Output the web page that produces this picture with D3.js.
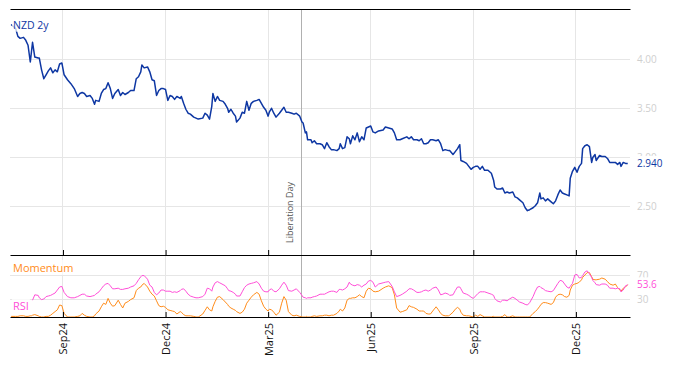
<!DOCTYPE html>
<html><head><meta charset="utf-8">
<script src="https://cdn.jsdelivr.net/npm/d3@7"></script>
<style>body{margin:0;background:#fff}svg{display:block;font-family:"Open Sans",sans-serif}</style>
</head><body><svg id="c" width="674" height="366"></svg>
<script>
const dates=["2024-07-18","2024-07-22","2024-07-24","2024-07-26","2024-07-29","2024-07-31","2024-08-02","2024-08-04","2024-08-05","2024-08-06",
"2024-08-08","2024-08-11","2024-08-12","2024-08-14","2024-08-16","2024-08-18","2024-08-20","2024-08-22","2024-08-24","2024-08-26",
"2024-08-28","2024-08-30","2024-09-01","2024-09-03","2024-09-06","2024-09-09","2024-09-12","2024-09-15","2024-09-17","2024-09-19",
"2024-09-21","2024-09-23","2024-09-26","2024-09-28","2024-09-30","2024-10-01","2024-10-04","2024-10-06","2024-10-08","2024-10-10",
"2024-10-12","2024-10-14","2024-10-16","2024-10-18","2024-10-21","2024-10-23","2024-10-25","2024-10-27","2024-10-30","2024-11-01",
"2024-11-04","2024-11-06","2024-11-08","2024-11-10","2024-11-11","2024-11-13","2024-11-16","2024-11-18","2024-11-20","2024-11-22",
"2024-11-24","2024-11-26","2024-11-28","2024-11-30","2024-12-02","2024-12-04","2024-12-06","2024-12-08","2024-12-10","2024-12-12",
"2024-12-15","2024-12-16","2024-12-18","2024-12-20","2024-12-22","2024-12-24","2024-12-27","2024-12-29","2024-12-31","2025-01-04",
"2025-01-06","2025-01-08","2025-01-10","2025-01-12","2025-01-13","2025-01-15","2025-01-17","2025-01-19","2025-01-22","2025-01-24",
"2025-01-26","2025-01-27","2025-01-29","2025-01-31","2025-02-02","2025-02-03","2025-02-06","2025-02-08","2025-02-10","2025-02-12",
"2025-02-14","2025-02-16","2025-02-18","2025-02-21","2025-02-23","2025-02-25","2025-02-27","2025-03-01","2025-03-03","2025-03-04",
"2025-03-06","2025-03-08","2025-03-10","2025-03-13","2025-03-15","2025-03-17","2025-03-19","2025-03-21","2025-03-24","2025-03-26",
"2025-03-28","2025-03-31","2025-04-02","2025-04-03","2025-04-05","2025-04-06","2025-04-07","2025-04-10","2025-04-11","2025-04-13",
"2025-04-15","2025-04-18","2025-04-20","2025-04-22","2025-04-24","2025-04-26","2025-04-28","2025-04-30","2025-05-03","2025-05-05",
"2025-05-06","2025-05-08","2025-05-10","2025-05-12","2025-05-14","2025-05-15","2025-05-17","2025-05-19","2025-05-21","2025-05-23",
"2025-05-25","2025-05-27","2025-05-29","2025-05-31","2025-06-02","2025-06-04","2025-06-06","2025-06-09","2025-06-13","2025-06-15",
"2025-06-18","2025-06-21","2025-06-23","2025-06-25","2025-06-28","2025-06-30","2025-07-04","2025-07-06","2025-07-08","2025-07-10",
"2025-07-13","2025-07-15","2025-07-17","2025-07-19","2025-07-21","2025-07-23","2025-07-25","2025-07-27","2025-07-30","2025-08-01",
"2025-08-03","2025-08-05","2025-08-07","2025-08-10","2025-08-11","2025-08-14","2025-08-16","2025-08-18","2025-08-20","2025-08-21",
"2025-08-23","2025-08-26","2025-08-28","2025-08-30","2025-09-01","2025-09-03","2025-09-05","2025-09-07","2025-09-09","2025-09-11",
"2025-09-14","2025-09-17","2025-09-19","2025-09-20","2025-09-22","2025-09-25","2025-09-27","2025-09-29","2025-10-01","2025-10-03",
"2025-10-06","2025-10-08","2025-10-10","2025-10-12","2025-10-15","2025-10-17","2025-10-19","2025-10-21","2025-10-24","2025-10-26",
"2025-10-28","2025-10-30","2025-10-31","2025-11-02","2025-11-04","2025-11-06","2025-11-09","2025-11-11","2025-11-13","2025-11-15",
"2025-11-17","2025-11-19","2025-11-21","2025-11-23","2025-11-25","2025-11-26","2025-11-28","2025-11-30","2025-12-02","2025-12-03",
"2025-12-04","2025-12-06","2025-12-07","2025-12-09","2025-12-11","2025-12-13","2025-12-15","2025-12-16","2025-12-18","2025-12-19",
"2025-12-22","2025-12-24","2025-12-27","2025-12-29","2025-12-31","2026-01-03","2026-01-05","2026-01-07","2026-01-09","2026-01-10",
"2026-01-12","2026-01-14","2026-01-16"];

const price=[4.35,4.31,4.23,4.21,4.22,4.19,4.14,3.97,4.07,4.17,
4.02,4.01,4.01,3.89,3.80,3.84,3.88,3.91,3.86,3.89,
3.87,3.95,3.96,3.84,3.79,3.75,3.70,3.62,3.65,3.66,
3.65,3.62,3.63,3.60,3.54,3.58,3.57,3.65,3.69,3.70,
3.76,3.70,3.60,3.65,3.69,3.63,3.66,3.64,3.66,3.68,
3.68,3.80,3.82,3.87,3.94,3.91,3.92,3.87,3.79,3.78,
3.63,3.68,3.70,3.70,3.69,3.58,3.63,3.62,3.59,3.62,
3.60,3.62,3.55,3.49,3.45,3.44,3.41,3.40,3.39,3.40,
3.45,3.43,3.39,3.52,3.65,3.57,3.62,3.58,3.57,3.54,
3.50,3.46,3.49,3.45,3.42,3.36,3.40,3.46,3.45,3.57,
3.48,3.55,3.57,3.58,3.59,3.55,3.51,3.48,3.42,3.46,
3.50,3.45,3.41,3.45,3.48,3.51,3.46,3.46,3.45,3.44,
3.45,3.42,3.36,3.35,3.25,3.26,3.18,3.18,3.15,3.17,
3.14,3.14,3.13,3.09,3.15,3.11,3.08,3.08,3.07,3.09,
3.14,3.09,3.10,3.21,3.19,3.14,3.22,3.18,3.25,3.16,
3.21,3.18,3.30,3.31,3.32,3.26,3.25,3.27,3.28,3.31,
3.30,3.29,3.25,3.18,3.18,3.19,3.21,3.19,3.21,3.18,
3.18,3.17,3.19,3.14,3.14,3.15,3.18,3.18,3.17,3.18,
3.14,3.07,3.08,3.07,3.07,3.03,3.06,3.09,3.13,2.97,
2.96,2.94,2.91,2.88,2.90,2.91,2.91,2.88,2.91,2.87,
2.87,2.84,2.77,2.70,2.68,2.68,2.69,2.64,2.65,2.64,
2.65,2.60,2.59,2.57,2.54,2.49,2.46,2.47,2.49,2.51,
2.54,2.64,2.58,2.59,2.56,2.58,2.55,2.53,2.56,2.62,
2.67,2.64,2.63,2.62,2.61,2.79,2.86,2.90,2.85,2.88,
2.91,2.94,3.09,3.12,3.13,3.11,2.95,3.00,3.03,2.97,
3.02,3.01,3.01,2.99,2.95,2.95,2.95,2.93,2.95,2.91,
2.95,2.94,2.94];

const rsi=[null,null,null,null,null,null,null,null,null,28,
37,36,32,29,30,34,35,36,38,40,
45,50,51,41,34,32,32,34,36,38,
38,35,34,35,36,38,42,47,52,55,
56,52,47,47,48,46,46,47,48,50,
52,56,62,67,69,69,63,53,50,41,
37,40,45,45,43,43,43,41,42,41,
44,46,47,43,38,35,33,32,32,34,
38,48,47,43,50,57,59,57,54,52,
47,44,43,41,38,35,35,42,49,53,
55,56,57,59,55,48,43,42,42,45,
47,43,42,47,53,58,53,44,43,45,
47,41,36,33,32,31,32,32,33,34,
35,38,38,38,40,42,43,43,41,46,
46,45,47,50,58,55,53,52,54,53,
50,53,55,60,61,58,50,55,57,58,
59,51,42,34,36,38,43,47,47,45,
41,41,42,44,45,43,45,48,50,45,
37,38,40,38,36,37,44,50,50,47,
40,38,36,33,31,35,39,42,42,42,
40,38,36,31,27,25,28,28,27,30,
33,31,28,25,23,21,20,24,34,43,
50,51,49,47,44,43,42,44,50,56,
61,60,55,50,48,51,56,70,71,68,
65,66,69,75,77,72,66,61,57,54,
53,55,55,53,48,48,47,48,47,42,
45,52,53.6];

const momentum=[1,1,1,2,2,1,1,2,2,3,
4,2,1,0,0,1,1,3,6,9,
12,20,19,6,0,0,0,1,2,6,
3,1,0,0,2,5,10,17,23,21,
31,23,18,19,28,21,15,23,26,29,
32,44,48,50,53,56,50,43,38,35,
27,19,17,18,16,12,11,10,9,5,
9,8,4,2,2,2,1,0,0,5,
11,17,12,10,17,26,33,34,29,25,
21,18,15,13,11,9,6,8,13,23,
28,33,37,41,38,27,18,13,10,13,
12,8,3,8,23,34,28,9,3,2,
3,1,0,0,0,1,0,0,1,2,
1,2,2,3,3,2,3,3,6,10,
13,10,15,28,31,31,32,32,34,37,
34,32,43,48,47,43,42,43,48,50,
52,49,37,15,8,9,12,19,17,16,
13,10,10,10,6,5,5,10,17,12,
6,3,2,2,3,8,13,16,13,8,
3,2,2,1,0,3,1,4,2,0,
0,0,1,0,0,0,1,4,0,0,
2,0,0,0,0,0,0,0,6,9,
13,18,21,24,24,23,21,24,33,37,
38,37,34,33,36,45,53,55,56,57,
58,62,66,70,74,74,67,63,62,62,
63,65,63,59,55,53,55,49,45,43,
48,50,54];

const tickDates=["2024-09-02","2024-12-02","2025-03-03","2025-06-02","2025-09-01","2025-12-01"];
const tickLabels=["Sep24","Dec24","Mar25","Jun25","Sep25","Dec25"];
const priceTicks=[2.5,3.0,3.5,4.0];
const oscTicks=[30,70];
const eventDate="2025-04-02", eventLabel="Liberation Day";
const seriesName="NZD 2y", priceLast="2.940", rsiLast="53.6";
const domainDates=["2024-07-17","2026-01-18"];

const parse=d3.utcParse("%Y-%m-%d");
const X0=10,X1=630,TOP=9,MID=255,BOT=317,LOWTOP=257;
const C_PRICE="#0e37a3",C_RSI="#ff4fd8",C_MOM="#ff8c1a",GRID="#e6e6e6",LBL="#cfcfcf";
const svg=d3.select("#c");
const x=d3.scaleUtc().domain(domainDates.map(parse)).range([X0,X1]);
const y=d3.scaleLinear().domain([2.01,4.508]).range([MID,TOP]);
const y2=d3.scaleLinear().domain([0,100]).range([BOT,LOWTOP]);
const data=dates.map((d,i)=>({d:parse(d),p:price[i],r:rsi[i],m:momentum[i]}));
const tks=tickDates.map(parse);

// vertical gridlines
svg.append("g").selectAll("line").data(tks).join("line")
 .attr("x1",d=>x(d)).attr("x2",d=>x(d)).attr("y1",TOP).attr("y2",BOT)
 .attr("stroke",GRID).attr("stroke-width",1).attr("shape-rendering","crispEdges");
// horizontal gridlines
svg.append("g").selectAll("line").data(priceTicks).join("line")
 .attr("x1",X0).attr("x2",X1).attr("y1",d=>y(d)).attr("y2",d=>y(d))
 .attr("stroke",GRID).attr("shape-rendering","crispEdges");
svg.append("g").selectAll("line").data(oscTicks).join("line")
 .attr("x1",X0).attr("x2",X1).attr("y1",d=>y2(d)).attr("y2",d=>y2(d))
 .attr("stroke",GRID).attr("shape-rendering","crispEdges");

// event line
const ex=x(parse(eventDate));
svg.append("line").attr("x1",ex).attr("x2",ex).attr("y1",TOP).attr("y2",BOT)
 .attr("stroke","#b0b0b0").attr("shape-rendering","crispEdges");
svg.append("text").attr("transform",`translate(${ex-9},243) rotate(-90)`)
 .attr("font-size",9).attr("fill","#555").text(eventLabel);

// lines
svg.append("path").datum(data).attr("fill","none").attr("stroke",C_MOM).attr("stroke-width",1)
 .attr("d",d3.line().x(d=>x(d.d)).y(d=>y2(d.m)));
svg.append("path").datum(data.filter(d=>d.r!=null)).attr("fill","none").attr("stroke",C_RSI).attr("stroke-width",1)
 .attr("d",d3.line().x(d=>x(d.d)).y(d=>y2(d.r)));
svg.append("path").datum(data).attr("fill","none").attr("stroke",C_PRICE).attr("stroke-width",1.5)
 .attr("stroke-linejoin","round").attr("d",d3.line().x(d=>x(d.d)).y(d=>y(d.p)));

// axes
svg.append("g").attr("transform",`translate(0,${TOP})`)
 .call(d3.axisTop(x).tickValues([]).tickSizeOuter(0))
 .call(g=>g.select(".domain").attr("stroke","#000"));
svg.append("g").attr("transform",`translate(0,${MID})`)
 .call(d3.axisBottom(x).tickValues(tks).tickSizeInner(-5).tickSizeOuter(0).tickFormat(""))
 .call(g=>g.selectAll("path,line").attr("stroke","#000"));
const xa=svg.append("g").attr("transform",`translate(0,${BOT})`)
 .call(d3.axisBottom(x).tickValues(tks).tickSizeInner(-5).tickSizeOuter(0).tickFormat((d,i)=>tickLabels[i]));
xa.selectAll("path,line").attr("stroke","#000");
xa.selectAll("text").attr("transform","rotate(-90)").attr("text-anchor","end")
 .attr("x",-6).attr("y",0).attr("dy","0.35em").attr("font-size",11).attr("fill","#111")
 .attr("font-family","Open Sans, sans-serif");

const ya=svg.append("g").attr("transform",`translate(${X1},0)`)
 .call(d3.axisRight(y).tickValues(priceTicks).tickFormat(d3.format(".2f")).tickSize(0).tickPadding(7));
ya.select(".domain").remove();
ya.selectAll("text").attr("fill",LBL).attr("font-size",10).attr("font-family","Open Sans, sans-serif");
const ya2=svg.append("g").attr("transform",`translate(${X1},0)`)
 .call(d3.axisRight(y2).tickValues(oscTicks).tickFormat(d3.format("d")).tickSize(0).tickPadding(7));
ya2.select(".domain").remove();
ya2.selectAll("text").attr("fill",LBL).attr("font-size",10).attr("font-family","Open Sans, sans-serif");

function label(xp,yp,txt,col,size,bgOp){
  const g=svg.append("g");
  const r=g.append("rect").attr("fill","#fff").attr("opacity",bgOp);
  const t=g.append("text").attr("x",xp).attr("y",yp).attr("dy","0.35em")
   .attr("font-size",size).attr("fill",col).text(txt);
  const b=t.node().getBBox();
  r.attr("x",b.x-1).attr("y",b.y).attr("width",b.width+2).attr("height",b.height);
}
const last=data[data.length-1];
label(X1+7,y(last.p),priceLast,C_PRICE,10,1);
label(X1+7,y2(last.r),rsiLast,C_RSI,10,1);
label(13,25,seriesName,C_PRICE,10.5,0.75);
label(13,268,"Momentum",C_MOM,11,0.75);
label(13,306,"RSI",C_RSI,11,0.75);
</script></body></html>
